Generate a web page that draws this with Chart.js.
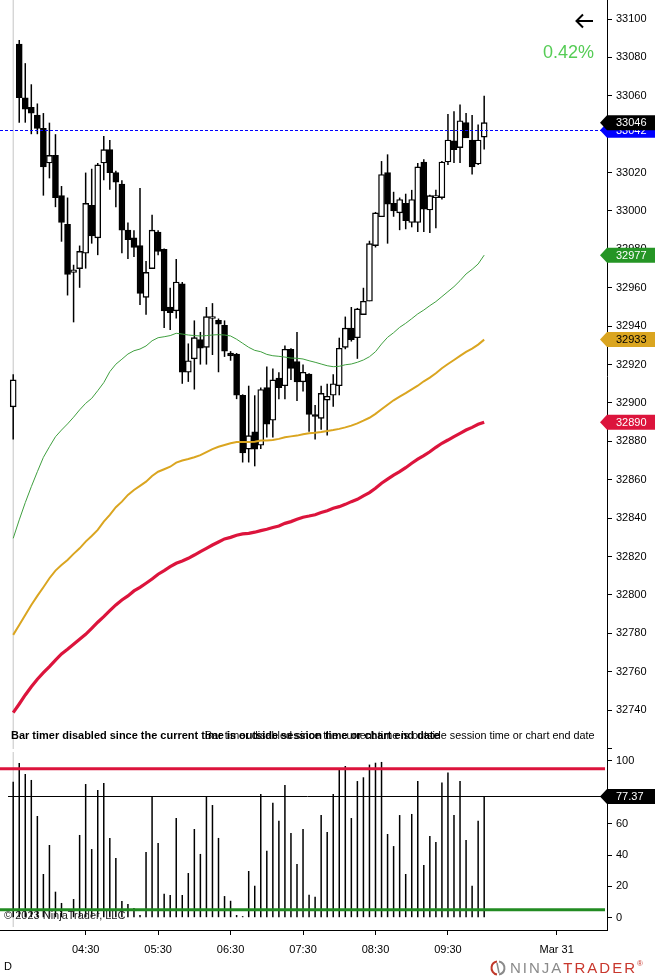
<!DOCTYPE html>
<html>
<head>
<meta charset="utf-8">
<title>YM 5 Min</title>
<script src="https://cdn.jsdelivr.net/npm/chart.js@4.4.1/dist/chart.umd.min.js"></script>
<style>
  html, body { margin: 0; padding: 0; background: #fff; }
  #wrap { position: relative; width: 655px; height: 977px; overflow: hidden; background: #fff; }
  canvas { position: absolute; left: 0; }
  #price { top: 0; }
  #stoch { top: 752px; }
</style>
</head>
<body>
<div id="wrap">
  <canvas id="price" width="655" height="752"></canvas>
  <canvas id="stoch" width="655" height="225"></canvas>
</div>
<script>
// Bougies 5 minutes, de 03:30 (barre 0) à 10:00 (barre 78)
const open = [32898, 33087, 33059, 33054, 33050, 33043, 33025, 33029, 33008, 32993,
  32968, 32970, 32978, 33003, 32986, 33025, 33032, 33020, 33014, 32990,
  32986, 32982, 32955, 32970, 32989, 32980, 32950, 32948, 32962, 32916,
  32923, 32933, 32929, 32944, 32943, 32940.5, 32926, 32925.5, 32904, 32876,
  32885, 32878, 32908, 32891, 32913, 32909, 32928, 32921.5, 32911, 32915,
  32894, 32892, 32901.5, 32904, 32909, 32929, 32939, 32934, 32946, 32953,
  32982, 32997, 33020, 33004, 32999, 33004, 32994, 32994, 33025.5, 33000.5,
  33007, 33007, 33025.5, 33036.5, 33033, 33046, 33037, 33024.5, 33038.5];
const high = [32915, 33089, 33077, 33066, 33056, 33051, 33046, 33040, 33013, 33007,
  32972, 32982, 33020, 33022, 33025, 33039, 33037, 33021, 33016, 32994,
  32990, 33012, 32974, 32998, 32990, 32980.5, 32960, 32975, 32963, 32931,
  32943, 32937, 32950, 32952, 32944, 32943, 32927, 32926, 32904.5, 32909,
  32904, 32908, 32919, 32918, 32916, 32930, 32928.5, 32937, 32920, 32915.5,
  32899, 32909, 32910, 32915, 32934, 32945, 32950, 32949.5, 32960, 32984.5,
  32999.5, 33026, 33029.5, 33010, 33007, 33009, 33011, 33025, 33027, 33008.5,
  33011, 33026, 33050.5, 33052, 33055.5, 33051, 33050, 33045, 33060];
const low = [32881, 33046, 33046, 33040, 33040, 33008, 33017, 33002, 32984, 32956,
  32942, 32960, 32970, 32983, 32977, 33016, 33011, 33002, 32978, 32975,
  32976, 32951, 32946, 32970, 32977, 32939, 32938, 32944, 32910, 32911,
  32907, 32920, 32920, 32925, 32916, 32924, 32922, 32902, 32869, 32869,
  32867, 32876, 32882, 32882, 32902, 32902, 32912, 32901, 32906, 32885,
  32881, 32886, 32883, 32898, 32904, 32928, 32932, 32923, 32946, 32953,
  32981, 32997, 32983, 32997, 32990, 32990.5, 32991.5, 32989, 32989, 32988.5,
  32991, 33006, 33024, 33025, 33025, 33038, 33019, 33024, 33032];
const close = [32912, 33059, 33053, 33051, 33043, 33023, 33029, 33007, 32994, 32967,
  32969.3, 32979, 33004, 32987, 33024, 33032, 33020, 33015, 32990, 32985,
  32981, 32957, 32968, 32990, 32979, 32948, 32947, 32963, 32916, 32922,
  32934, 32928.5, 32945, 32945, 32941, 32927, 32924.5, 32904, 32874, 32883,
  32876, 32907, 32889, 32912, 32908, 32928, 32918, 32911, 32916, 32894,
  32893, 32905, 32903.5, 32910, 32928.5, 32939, 32933, 32949, 32953, 32983,
  32999, 33019, 33003.5, 33000, 33006, 32995, 33006, 33023, 33001, 33008,
  33008, 33025.5, 33037, 33032, 33047, 33038, 33023, 33037, 33046];

// Moyennes mobiles (rapide / moyenne / lente)
const maFast = [32829.5, 32839.1, 32848.1, 32856.4, 32864.2, 32871.7, 32877.2, 32882.4, 32885.9, 32889.1,
  32892.6, 32896.4, 32899.8, 32902.4, 32906.4, 32910.6, 32916.3, 32920.2, 32922.8, 32925.5,
  32927.2, 32928.1, 32929.7, 32932.4, 32934.0, 32934.5, 32935.1, 32936.3, 32935.9, 32935.4,
  32935.1, 32934.9, 32935.1, 32935.4, 32935.6, 32935.4, 32934.9, 32933.2, 32931.1, 32929.0,
  32927.4, 32926.7, 32925.3, 32924.6, 32924.3, 32923.9, 32923.4, 32923.3, 32922.9, 32922.0,
  32921.2, 32920.3, 32919.4, 32918.9, 32919.1, 32919.9, 32920.3, 32921.2, 32922.4, 32924.1,
  32926.7, 32930.7, 32934.2, 32936.6, 32939.4, 32941.5, 32943.9, 32946.4, 32948.4, 32950.7,
  32952.8, 32955.4, 32958.0, 32960.6, 32963.7, 32967.2, 32969.6, 32972.4, 32977];
const maMid = [32779.2, 32784.4, 32789.6, 32794.8, 32799.5, 32804.0, 32808.7, 32812.7, 32815.6, 32818.2,
  32821.4, 32824.3, 32827.8, 32830.7, 32833.9, 32838.2, 32841.7, 32845.7, 32848.6, 32852.1,
  32854.7, 32856.8, 32859.0, 32862.0, 32864.2, 32865.5, 32866.8, 32868.9, 32870.0, 32870.8,
  32871.7, 32872.8, 32874.4, 32876.0, 32877.2, 32878.1, 32879.0, 32879.7, 32879.7, 32879.7,
  32879.8, 32880.4, 32880.4, 32880.7, 32881.3, 32882.1, 32882.6, 32883.0, 32883.7, 32884.2,
  32884.5, 32884.9, 32885.4, 32885.9, 32886.5, 32887.3, 32888.2, 32889.4, 32890.8, 32892.3,
  32894.3, 32896.7, 32899.1, 32901.4, 32903.3, 32905.1, 32907.1, 32909.0, 32911.3, 32913.2,
  32915.5, 32918.1, 32920.3, 32922.4, 32924.5, 32926.6, 32928.3, 32930.4, 32933];
const maSlow = [32738.7, 32743.2, 32747.9, 32752.2, 32756.1, 32759.5, 32762.7, 32766.1, 32769.3, 32771.7,
  32774.3, 32776.9, 32779.5, 32782.6, 32785.8, 32788.7, 32791.8, 32794.8, 32797.4, 32799.5,
  32802.1, 32804.0, 32806.1, 32808.3, 32810.8, 32812.7, 32814.7, 32816.5, 32817.7, 32819.1,
  32820.8, 32822.6, 32824.3, 32826.0, 32827.6, 32829.2, 32830.0, 32831.1, 32831.8, 32832.1,
  32832.7, 32833.5, 32834.2, 32835.1, 32835.9, 32837.3, 32838.2, 32839.4, 32840.5, 32841.1,
  32841.8, 32842.9, 32843.9, 32845.2, 32846.0, 32847.2, 32848.6, 32849.8, 32851.6, 32853.3,
  32855.6, 32858.2, 32860.3, 32862.4, 32864.2, 32866.3, 32868.6, 32870.7, 32872.6, 32874.6,
  32876.9, 32879.0, 32880.7, 32882.5, 32884.2, 32885.9, 32887.3, 32888.9, 32890];

// Oscillateur du panneau inférieur
const stoch = [86.8, 98.7, 91.7, 87.9, 64.9, 27.9, 46.4, 16.6, 9.4, 0,
  11.9, 52.8, 85.3, 43.8, 81.5, 86.0, 50.9, 38.1, 10.7, 8.7,
  6.2, 1.7, 41.9, 77.5, 47.7, 15.3, 14.5, 63.6, 14.5, 28.5,
  56.6, 40.7, 77.5, 71.9, 50.9, 13.8, 10.8, 1.7, 1.0, 29.8,
  20.4, 78.9, 42.8, 73.4, 61.9, 84.7, 54.0, 34.3, 56.6, 14.7,
  13.4, 65.5, 54.7, 78.9, 94.9, 96.8, 63.6, 87.2, 89.6, 97.7,
  98.9, 99.4, 53.4, 45.7, 65.5, 27.9, 66.2, 87.2, 33.6, 52.1,
  48.3, 86.2, 92.6, 65.5, 87.2, 49.6, 20.4, 61.9, 77.37];
const stochLevels = [95, 5];

// Axe du temps
const tickBars = [12, 24, 36, 48, 60, 72, 90];
const timeLabels = ["04:30", "05:30", "06:30", "07:30", "08:30", "09:30", "Mar 31"];

const refPrice = 33042;
const percentChange = "0.42%";
const timerText = "Bar timer disabled since the current time is outside session time or chart end date";

// Réglages d'affichage
const X_MIN = -2.186, X_MAX = 98.34;
const FONT = "'Liberation Sans', Arial, sans-serif";
Chart.defaults.font.family = FONT;
Chart.defaults.font.size = 11;
Chart.defaults.color = "#000";

const xy = arr => arr.map((v, i) => ({ x: i, y: v }));

function fixAxis(width, height) {
  return function (s) {
    if (width) s.width = width;
    if (height) s.height = height;
    s.paddingTop = 0; s.paddingBottom = 0; s.paddingLeft = 0; s.paddingRight = 0;
  };
}

// Étiquette en forme de flèche sur l'axe de droite
function axisLabel(chart, y, text, bg, fg) {
  const ctx = chart.ctx, x0 = chart.chartArea.right, h = 15;
  ctx.save();
  ctx.beginPath();
  ctx.moveTo(x0 - 7, y);
  ctx.lineTo(x0, y - h / 2);
  ctx.lineTo(chart.width, y - h / 2);
  ctx.lineTo(chart.width, y + h / 2);
  ctx.lineTo(x0, y + h / 2);
  ctx.closePath();
  ctx.fillStyle = bg;
  ctx.fill();
  ctx.fillStyle = fg;
  ctx.font = "11px " + FONT;
  ctx.textBaseline = "middle";
  ctx.fillText(text, x0 + 9, y + 0.5);
  ctx.restore();
}

// Texte ajusté à une largeur donnée
function fitText(ctx, text, x, y, width, weight) {
  ctx.font = weight + " 11px " + FONT;
  const size = 11 * width / ctx.measureText(text).width;
  ctx.font = weight + " " + size.toFixed(2) + "px " + FONT;
  ctx.fillText(text, x, y);
}

function sessionLine(chart) {
  const ctx = chart.ctx, a = chart.chartArea;
  const x = chart.scales.x.getPixelForValue(0);
  ctx.save();
  ctx.strokeStyle = "#c4c4c4";
  ctx.lineWidth = 1;
  ctx.beginPath();
  ctx.moveTo(x, a.top);
  ctx.lineTo(x, a.bottom - 3);
  ctx.stroke();
  ctx.restore();
}

const pricePlugin = {
  id: "priceExtras",
  beforeDatasetsDraw(chart) {
    sessionLine(chart);
  },
  afterDatasetsDraw(chart) {
    const ctx = chart.ctx, a = chart.chartArea;
    const y = chart.scales.y.getPixelForValue(refPrice);
    ctx.save();
    ctx.strokeStyle = "#0000ff";
    ctx.lineWidth = 1;
    ctx.setLineDash([3, 2]);
    ctx.beginPath();
    ctx.moveTo(a.left, Math.round(y) + 0.5);
    ctx.lineTo(a.right, Math.round(y) + 0.5);
    ctx.stroke();
    ctx.restore();
  },
  afterDraw(chart) {
    const ctx = chart.ctx, ys = chart.scales.y;
    const last = close.length - 1;
    axisLabel(chart, ys.getPixelForValue(refPrice), String(refPrice), "#0000ff", "#fff");
    axisLabel(chart, ys.getPixelForValue(close[last]), String(Math.round(close[last])), "#000", "#fff");
    axisLabel(chart, ys.getPixelForValue(maFast[last]), String(Math.round(maFast[last])), "#259525", "#fff");
    axisLabel(chart, ys.getPixelForValue(maMid[last]), String(Math.round(maMid[last])), "#daa520", "#000");
    axisLabel(chart, ys.getPixelForValue(maSlow[last]), String(Math.round(maSlow[last])), "#dc143c", "#fff");

    ctx.save();
    // flèche retour
    ctx.strokeStyle = "#000";
    ctx.lineWidth = 2;
    ctx.beginPath();
    ctx.moveTo(593, 21); ctx.lineTo(576, 21);
    ctx.moveTo(583, 14.5); ctx.lineTo(576.5, 21); ctx.lineTo(583, 27.5);
    ctx.stroke();
    // variation
    ctx.fillStyle = "#55cc55";
    ctx.font = "18px " + FONT;
    ctx.textAlign = "right";
    ctx.textBaseline = "middle";
    ctx.fillText(percentChange, 594, 53);
    // minuterie (deux fois, superposée comme à l'écran)
    ctx.textAlign = "left";
    ctx.fillStyle = "#000";
    fitText(ctx, timerText, 11, 736, 429, "bold");
    fitText(ctx, timerText, 205, 736.5, 390, "normal");
    ctx.restore();
  }
};

new Chart(document.getElementById("price"), {
  type: "bar",
  data: {
    datasets: [
      { type: "line", label: "MA fast", data: xy(maFast), borderColor: "#3f9f3f", borderWidth: 1,
        pointRadius: 0, order: 0 },
      { type: "line", label: "MA mid", data: xy(maMid), borderColor: "#daa520", borderWidth: 2,
        pointRadius: 0, order: 0 },
      { type: "line", label: "MA slow", data: xy(maSlow), borderColor: "#dc143c", borderWidth: 3.2,
        pointRadius: 0, order: 0 },
      { label: "body", data: open.map((o, i) => ({ x: i, y: [o, close[i]] })),
        backgroundColor: open.map((o, i) => close[i] >= o ? "#fff" : "#000"),
        borderColor: "#000", borderWidth: 1.4, borderSkipped: false,
        barThickness: 6, grouped: false, order: 1 },
      { label: "wick", data: low.map((l, i) => ({ x: i, y: [l, high[i]] })),
        backgroundColor: "#000", borderWidth: 0, barThickness: 1.5, inflateAmount: 0,
        grouped: false, order: 2 }
    ]
  },
  options: {
    responsive: false,
    animation: false,
    devicePixelRatio: 1,
    events: [],
    layout: { padding: 0 },
    plugins: { legend: { display: false }, tooltip: { enabled: false } },
    scales: {
      x: { type: "linear", min: X_MIN, max: X_MAX, offset: false, grid: { offset: false }, display: false },
      y: {
        position: "right", min: 32718.2, max: 33109.9,
        afterFit: fixAxis(48, 0),
        ticks: { stepSize: 20, includeBounds: false, padding: 4,
          callback: v => v < 32730 ? "" : String(v) },
        grid: { drawOnChartArea: false, drawTicks: true, tickLength: 5, color: "#000" },
        border: { display: true, color: "#000" }
      }
    }
  },
  plugins: [pricePlugin]
});

const stochPlugin = {
  id: "stochExtras",
  beforeDatasetsDraw(chart) {
    sessionLine(chart);
  },
  afterDatasetsDraw(chart) {
    const ctx = chart.ctx, a = chart.chartArea, ys = chart.scales.y;
    const colors = ["#dc143c", "#228b22"];
    ctx.save();
    stochLevels.forEach((lv, k) => {
      const y = ys.getPixelForValue(lv);
      ctx.strokeStyle = colors[k];
      ctx.lineWidth = 3;
      ctx.beginPath();
      ctx.moveTo(a.left, y);
      ctx.lineTo(a.right - 2, y);
      ctx.stroke();
    });
    const yl = Math.round(ys.getPixelForValue(stoch[stoch.length - 1])) + 0.5;
    ctx.strokeStyle = "#000";
    ctx.lineWidth = 1;
    ctx.beginPath();
    ctx.moveTo(a.left + 8, yl);
    ctx.lineTo(a.right, yl);
    ctx.stroke();
    ctx.restore();
  },
  afterDraw(chart) {
    const ctx = chart.ctx, ys = chart.scales.y;
    const lastV = stoch[stoch.length - 1];
    axisLabel(chart, ys.getPixelForValue(lastV), lastV.toFixed(2), "#000", "#fff");
    ctx.save();
    ctx.font = "11px " + FONT;
    ctx.textBaseline = "middle";
    ctx.fillStyle = "#222";
    ctx.fillText("\u00a9 2023 NinjaTrader, LLC", 4, 164);
    ctx.fillStyle = "#000";
    ctx.fillText("D", 4, 215);
    // logo
    const lx = 498, ly = 216;
    ctx.lineWidth = 2;
    ctx.strokeStyle = "#c0392b";
    ctx.beginPath(); ctx.arc(lx, ly, 6.5, Math.PI * 0.55, Math.PI * 1.45); ctx.stroke();
    ctx.strokeStyle = "#8a8a8a";
    ctx.beginPath(); ctx.arc(lx, ly, 6.5, -Math.PI * 0.45, Math.PI * 0.45); ctx.stroke();
    ctx.lineWidth = 1.5;
    ctx.beginPath(); ctx.moveTo(lx - 1, ly - 5); ctx.lineTo(lx + 1, ly + 5); ctx.stroke();
    ctx.font = "15px " + FONT;
    ctx.letterSpacing = "2px";
    ctx.fillStyle = "#8a8a8a";
    ctx.fillText("NINJA", 510, ly + 1);
    const w = ctx.measureText("NINJA").width;
    ctx.fillStyle = "#c8372d";
    ctx.fillText("TRADER", 510 + w, ly + 1);
    const w2 = ctx.measureText("TRADER").width;
    ctx.letterSpacing = "0px";
    ctx.font = "8px " + FONT;
    ctx.fillText("\u00ae", 510 + w + w2, ly - 4);
    ctx.restore();
  }
};

const lastStoch = stoch[stoch.length - 1];

new Chart(document.getElementById("stoch"), {
  type: "bar",
  data: {
    datasets: [
      { label: "osc", data: xy(stoch), backgroundColor: "#000", borderWidth: 0,
        barThickness: 1.5, inflateAmount: 0, grouped: false }
    ]
  },
  options: {
    responsive: false,
    animation: false,
    devicePixelRatio: 1,
    events: [],
    layout: { padding: 0 },
    plugins: { legend: { display: false }, tooltip: { enabled: false } },
    scales: {
      x: {
        type: "linear", min: X_MIN, max: X_MAX, position: "bottom", offset: false,
        afterBuildTicks: s => { s.ticks = tickBars.map(v => ({ value: v })); },
        afterFit: fixAxis(0, 47),
        ticks: { autoSkip: false, maxRotation: 0, padding: 8,
          callback: v => timeLabels[tickBars.indexOf(v)] },
        grid: { offset: false, drawOnChartArea: false, drawTicks: true, tickLength: 5, color: "#000" },
        border: { display: true, color: "#000" }
      },
      y: {
        position: "right", min: -7.85, max: 105.74,
        afterFit: fixAxis(48, 0),
        ticks: { stepSize: 20, includeBounds: false, padding: 4,
          callback: v => Math.abs(v - lastStoch) < 6 ? "" : String(v) },
        grid: { drawOnChartArea: false, drawTicks: true, tickLength: 5, color: "#000" },
        border: { display: true, color: "#000" }
      }
    }
  },
  plugins: [stochPlugin]
});
</script>
</body>
</html>
